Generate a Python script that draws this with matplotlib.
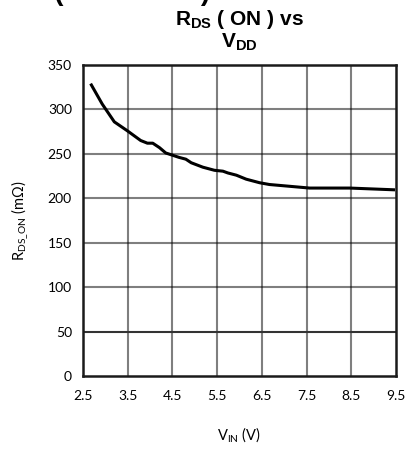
import matplotlib
matplotlib.use("Agg")
import matplotlib.pyplot as plt

plt.rcParams['mathtext.fontset'] = 'custom'
plt.rcParams['mathtext.rm'] = 'Lato'
plt.rcParams['mathtext.bf'] = 'Liberation Sans:bold'

# Data
vin = [2.67, 2.93, 3.20, 3.49, 3.79, 3.94, 4.06, 4.21, 4.35, 4.65, 4.80, 4.92,
       5.18, 5.44, 5.63, 5.74, 5.93, 6.15, 6.45, 6.67, 7.12, 7.57, 8.47, 9.48]
rds_on = [329, 306, 286, 276, 265, 262, 262, 257, 251, 246, 244, 240,
          235, 231.5, 230.5, 228.5, 226, 221.5, 217.5, 215.5, 213.5, 211.5, 211.5, 209.5]
x_ticks = [2.5, 3.5, 4.5, 5.5, 6.5, 7.5, 8.5, 9.5]
y_ticks = [0, 50, 100, 150, 200, 250, 300, 350]

fig = plt.figure(figsize=(4.09, 4.5), dpi=100)
ax = fig.add_axes([0.203, 0.1644, 0.765, 0.6912])

ax.set_xlim(2.5, 9.5)
ax.set_ylim(0, 350)
ax.set_xticks(x_ticks)
ax.set_xticklabels([f"{t:.1f}" for t in x_ticks])
ax.set_yticks(y_ticks)
ax.set_yticklabels([str(t) for t in y_ticks])

for t in x_ticks[1:-1]:
    ax.axvline(t, color='black', alpha=0.5, lw=1.5, zorder=1)
for t in y_ticks[1:-1]:
    if t == 50:
        ax.axhline(t, color='#333333', lw=1.5, zorder=1)
    else:
        ax.axhline(t, color='black', alpha=0.5, lw=1.5, zorder=1)

ax.plot(vin, rds_on, color='black', lw=2.2, zorder=3, solid_capstyle='butt')

for s in ax.spines.values():
    s.set_linewidth(1.8)
    s.set_color('#1a1a1a')
ax.tick_params(length=0, labelsize=10)
for lab in ax.get_xticklabels() + ax.get_yticklabels():
    lab.set_fontfamily('Lato')
ax.tick_params(axis='x', pad=10)
ax.tick_params(axis='y', pad=8)

ax.set_xlabel(r"V$_{\mathrm{IN}}$ (V)", fontfamily='Lato', fontsize=10.5, labelpad=17)
ax.set_ylabel(r"R$_{\mathrm{DS\_ON}}$ (m$\Omega$)", fontfamily='Lato', fontsize=10.5, labelpad=12)

fig.text(0.585, 0.944, r"$\mathbf{R_{DS}}$ ( ON ) vs", ha='center', va='baseline',
         fontfamily='Liberation Sans', fontweight='bold', fontsize=15)
fig.text(0.585, 0.895, r"$\mathbf{V_{DD}}$", ha='center', va='baseline',
         fontfamily='Liberation Sans', fontweight='bold', fontsize=15)
fig.text(0.02, 0.999, "ics (Continued)", ha='left', va='baseline',
         fontfamily='Liberation Sans', fontweight='bold', fontsize=20)

fig.savefig("out.png", dpi=100)
